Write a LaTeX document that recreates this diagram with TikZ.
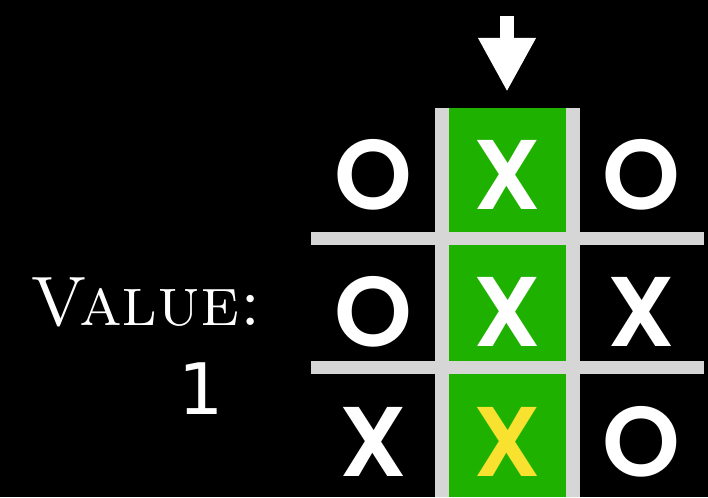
\documentclass[tikz,border=0pt]{standalone}
\usepackage{fontspec}
\usetikzlibrary{arrows.meta}
\newfontfamily\piecefont{Poppins SemiBold}
\newfontfamily\digitfont{DejaVu Sans}
\definecolor{CellGreen}{HTML}{1EB100}
\definecolor{BarGray}{HTML}{D6D6D6}
\definecolor{WinYellow}{HTML}{F8E12F}

\begin{document}
\begin{tikzpicture}[x=1pt,y=-1pt,
    piece/.style={inner sep=0pt,text height=69pt,text depth=0pt,font=\piecefont\fontsize{99}{99}\selectfont},
    bar/.style={fill=BarGray},
    label/.style={text=white,inner sep=0pt}]
    \fill[black] (0,0) rectangle (708,497);
    \useasboundingbox (0,0) rectangle (708,497);
    % chosen column
    \fill[CellGreen] (449,108) rectangle (566,497);
    \foreach \x in {435,566}{\fill[bar] (\x,108) rectangle ++(13.5,389);}
    \foreach \y in {232,361}{\fill[bar] (311,\y) rectangle ++(393,13);}
    % board
    \foreach \n/\x/\y/\t/\c in {a1/373/175/O/white,b1/507/175/X/white,c1/641/175/O/white,
                                a2/373/312/O/white,b2/507/312/X/white,c2/641/312/X/white,
                                a3/373/442/X/white,b3/507/442/X/WinYellow,c3/641/442/O/white}
      {\node[piece,text=\c] (cell-\n) at (\x,\y) {\t};}
    \coordinate (drop) at (507,16);
    \draw[white,line width=14pt,-{Triangle[length=54pt,width=54pt]}] (drop) -- ([yshift=48.5pt]cell-b1.north);
    \node[label,anchor=base west,font=\fontsize{70}{70}\selectfont\scshape] (value) at (30,325) {Value:};
    \node[label,anchor=base,font=\digitfont\fontsize{71}{71}\selectfont] (score) at (201.5,414) {1};
\end{tikzpicture}
\end{document}
